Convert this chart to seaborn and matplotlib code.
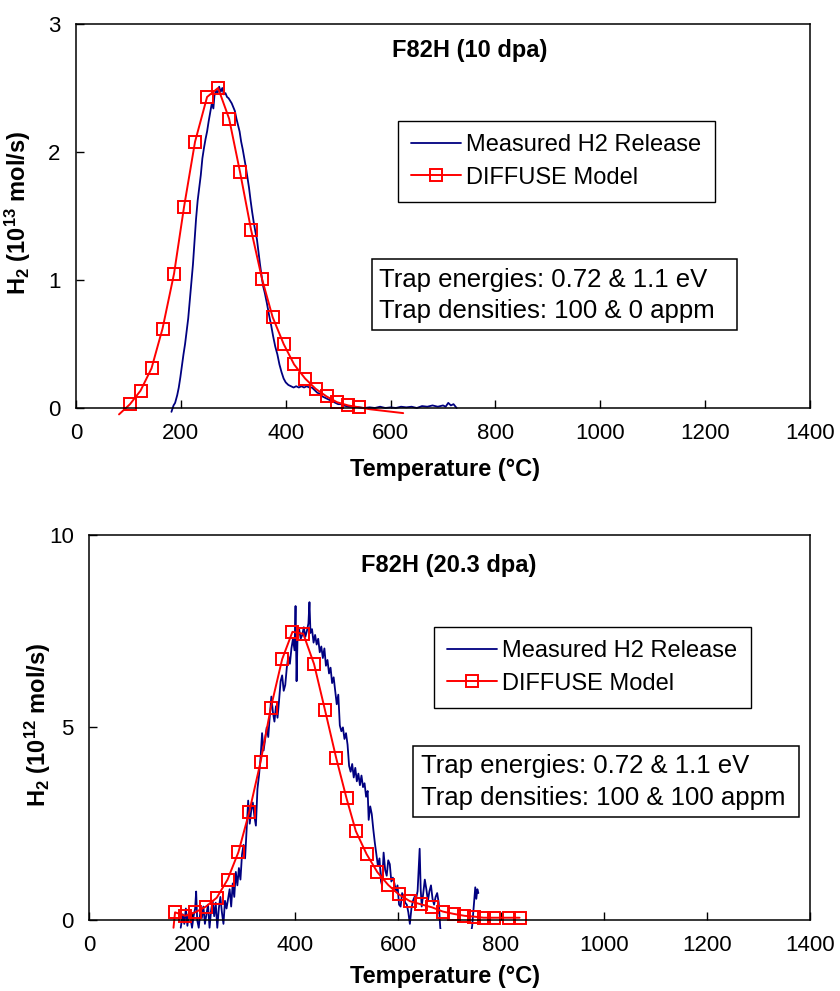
import numpy as np
import pandas as pd
import seaborn as sns
import matplotlib.pyplot as plt
from matplotlib.lines import Line2D
from matplotlib.patches import Rectangle

sns.set_style("white")
plt.rcParams['font.family'] = ['Liberation Sans', 'DejaVu Sans']
plt.rcParams['mathtext.fontset'] = 'custom'
plt.rcParams['mathtext.rm'] = 'Liberation Sans:bold'
plt.rcParams['mathtext.default'] = 'rm'
for key in ['text.color', 'axes.labelcolor', 'xtick.color', 'ytick.color']:
    plt.rcParams[key] = 'black'

NAVY = '#000080'
RED = '#ff0000'

# ---------------- F82H (10 dpa) ----------------
meas1_T = [182, 186, 189, 193, 196, 199, 202, 205, 208, 211, 214, 217, 220, 223, 226, 229,
           232, 235, 238, 241, 244, 247, 250, 253, 256, 259, 262, 264, 267, 270, 273, 276,
           279, 282, 285, 288, 291, 294, 297, 300, 303, 306, 309, 312, 315, 318, 321, 324,
           327, 330, 333, 336, 339, 342, 345, 348, 351, 354, 357, 360, 364, 368, 372, 376,
           380, 384, 388, 392, 396, 400, 405, 410, 415, 420, 425, 430, 435, 440, 445, 450,
           455, 460, 465, 470, 475, 480, 485, 490, 495, 500, 505, 510, 520, 530, 540, 550,
           560, 570, 580, 590, 600, 610, 620, 630, 640, 650, 660, 670, 680, 690, 700, 705,
           710, 715, 720, 726]
meas1_y = [-0.03, 0.02, 0.04, 0.10, 0.16, 0.24, 0.33, 0.42, 0.50, 0.60, 0.70, 0.84, 0.98, 1.12,
           1.30, 1.48, 1.62, 1.72, 1.82, 1.95, 2.03, 2.10, 2.16, 2.24, 2.31, 2.38, 2.34, 2.44,
           2.48, 2.46, 2.51, 2.47, 2.50, 2.45, 2.46, 2.43, 2.42, 2.40, 2.38, 2.35, 2.32, 2.26,
           2.21, 2.16, 2.08, 2.02, 1.95, 1.88, 1.80, 1.72, 1.62, 1.53, 1.45, 1.38, 1.32, 1.22,
           1.12, 1.03, 0.95, 0.90, 0.82, 0.73, 0.65, 0.56, 0.48, 0.42, 0.34, 0.28, 0.23, 0.20,
           0.18, 0.17, 0.16, 0.17, 0.16, 0.17, 0.16, 0.17, 0.16, 0.16, 0.14, 0.12, 0.11, 0.09,
           0.08, 0.07, 0.06, 0.05, 0.04, 0.03, 0.03, 0.02, 0.01, 0.01, 0.005, 0.0, 0.005, 0.0,
           0.01, 0.0, 0.005, 0.0, 0.01, 0.005, 0.01, 0.0, 0.015, 0.01, 0.02, 0.01, 0.02, 0.01,
           0.04, 0.02, 0.03, 0.0]
model1_T = [82, 103, 123, 144, 165, 187, 206, 227, 250, 271, 292, 313, 334, 355, 375, 396,
            416, 437, 457, 478, 498, 519, 540, 561, 582, 603, 624]
model1_y = [-0.05, 0.03, 0.135, 0.31, 0.62, 1.05, 1.57, 2.08, 2.43, 2.50, 2.26, 1.84, 1.39,
            1.005, 0.71, 0.50, 0.34, 0.23, 0.15, 0.09, 0.045, 0.02, 0.005, -0.01, -0.02,
            -0.03, -0.04]

# ---------------- F82H (20.3 dpa) ----------------
meas2_T = [178, 182, 185, 188, 191, 194, 197, 200, 203, 206, 208, 210, 213, 216, 219, 222,
           225, 228, 231, 234, 237, 240, 243, 246, 249, 252, 255, 258, 261, 264, 267,
           270, 273, 276, 279, 282, 285, 288, 291, 294, 297, 300, 303, 306, 309, 312, 315,
           318, 321, 324, 327, 330, 333, 336, 339, 342, 345, 348, 351, 354, 357, 360, 363,
           366, 369, 372, 375, 378, 381, 384, 387, 390, 393, 396, 399, 401, 403, 405, 408,
           411, 414, 417, 420, 423, 426, 428, 430, 433, 436, 439, 442, 445, 448, 451, 454,
           457, 460, 463, 466, 469, 472, 475, 478, 481, 484, 487, 490, 493, 496, 499, 502,
           505, 508, 511, 514, 517, 520, 523, 526, 529, 532, 535, 538, 541, 543, 546, 549,
           552, 555, 558, 561, 564, 567, 569, 572, 575, 578, 581, 584, 587, 590, 593, 596,
           599, 602, 605, 608, 611, 614, 617, 620, 623, 626, 629, 632, 635, 638, 640, 642,
           644, 646, 649, 652, 655, 658, 661, 664, 667, 670, 673, 676, 679, 682, 686, 700,
           720, 740, 744, 747, 750, 752, 754, 756]
meas2_y = [-0.20, 0.15, -0.10, 0.30, -0.15, 0.20, 0.05, -0.20, 0.10, 0.30, 0.74, 0.00, -0.20,
           0.20, 0.05, 0.35, -0.10, 0.15, 0.40, -0.20, 0.25, 0.50, 0.10, 0.45, -0.20, 0.30,
           0.60, 0.20, -0.10, 0.50, 0.30,
           0.55, 0.80, 0.35, 0.95, 0.60, 1.25, 0.90, 1.35, 1.05, 1.70, 1.95, 1.60, 2.35, 3.10,
           2.50, 2.85, 3.05, 2.70, 2.45, 3.40, 3.75, 4.20, 4.85, 4.40, 4.70, 5.00, 4.75, 5.30,
           5.80, 5.40, 5.15, 5.55, 5.25, 5.70, 6.20, 6.35, 5.95, 6.10, 6.55, 6.85, 6.65, 7.05,
           7.30, 7.00, 8.15, 6.20, 7.40, 7.55, 7.30, 7.40, 7.60, 7.35, 7.50, 7.70, 8.25, 7.45,
           7.55, 7.20, 7.40, 7.15, 7.30, 6.95, 7.10, 6.80, 7.05, 6.60, 6.75, 6.40, 6.55, 6.15,
           6.30, 5.95, 5.60, 5.85, 5.05, 4.90, 5.00, 4.70, 4.85, 4.55, 4.00, 3.85, 4.05, 3.70,
           3.95, 3.60, 3.80, 3.50, 3.75, 3.45, 3.55, 3.20, 3.35, 2.60, 2.95, 2.75, 2.35, 2.00,
           1.70, 1.40, 1.60, 1.00, 0.90, 1.75, 1.30, 1.15, 1.55, 1.45, 1.00, 1.10, 0.95, 0.75,
           0.90, 0.40, 0.35, 0.70, 0.60, 0.45, 0.40, 0.20, -0.10, 0.30, 0.50, 0.60, 0.55, 0.75,
           1.30, 1.85, 0.80, 0.35, 0.70, 1.05, 0.80, 0.50, 0.75, 0.90, 0.55, 0.40, 0.60, 0.70,
           0.45, -0.20, -0.50, -0.50, -0.50, -0.50, -0.15, 0.35, 0.85, 0.55, 0.80, 0.70]
model2_T = [164, 167, 187, 206, 227, 248, 269, 290, 311, 333, 353, 375, 395, 416, 437, 458,
            480, 500, 518, 539, 560, 581, 601, 623, 644, 666, 687, 708, 729, 747, 766, 786,
            815, 836]
model2_y = [-0.20, 0.20, 0.11, 0.20, 0.35, 0.58, 1.05, 1.76, 2.80, 4.10, 5.51, 6.77, 7.48,
            7.43, 6.64, 5.46, 4.20, 3.16, 2.31, 1.71, 1.24, 0.91, 0.67, 0.49, 0.41, 0.33,
            0.22, 0.16, 0.11, 0.09, 0.06, 0.06, 0.06, 0.06]

x_ticks = [0, 200, 400, 600, 800, 1000, 1200, 1400]
labels = ['Measured H2 Release', 'DIFFUSE Model']


def draw_panel(ax, mT, my, gT, gy, title, exponent, yticks, trap_text,
               title_pos, legend_pos, box, text_x, text_ys, xlab_pos, ylab_pos):
    meas = pd.DataFrame({'T': mT, 'H2': my})
    model = pd.DataFrame({'T': gT, 'H2': gy})
    sns.lineplot(data=meas, x='T', y='H2', ax=ax, color=NAVY, lw=1.3,
                 sort=False, estimator=None)
    # markers only where the model point sits inside the plot area
    shown = list(model['H2'] >= 0)
    sns.lineplot(data=model, x='T', y='H2', ax=ax, color=RED, lw=1.4,
                 marker='s', markersize=8.5, markerfacecolor='none',
                 markeredgecolor=RED, markeredgewidth=1.4, markevery=shown,
                 sort=False, estimator=None)

    # lines may run a few pixels below the x axis, like in the original
    clip = Rectangle((0, -0.022), 1, 1.044, transform=ax.transAxes)
    for ln in ax.lines:
        ln.set_clip_path(clip)

    ax.set_xlim(0, 1400)
    ax.set_ylim(yticks[0], yticks[-1])
    ax.set_xticks(x_ticks)
    ax.set_yticks(yticks)
    ax.tick_params(direction='in', length=6, width=1, labelsize=16,
                   bottom=True, left=True, top=False, right=False)
    ax.tick_params(axis='x', pad=11)
    ax.tick_params(axis='y', pad=11)
    for s in ax.spines.values():
        s.set_color('black')
        s.set_linewidth(1.1)

    ax.set_xlabel('Temperature (°C)', fontsize=17, fontweight='bold')
    ax.set_ylabel('H$_2$ (10$^{%s}$ mol/s)' % exponent, fontsize=17, fontweight='bold')
    ax.xaxis.set_label_coords(*xlab_pos)
    ax.yaxis.set_label_coords(*ylab_pos)

    ax.text(title_pos[0], title_pos[1], title, transform=ax.transAxes,
            ha='center', va='center', fontsize=17, fontweight='bold')

    handles = [Line2D([], [], color=NAVY, lw=1.3),
               Line2D([], [], color=RED, lw=1.4, marker='s', markersize=8.5,
                      markerfacecolor='none', markeredgecolor=RED, markeredgewidth=1.4)]
    leg = ax.legend(handles, labels, loc='upper left', bbox_to_anchor=legend_pos,
                    fontsize=17, frameon=True, fancybox=False, edgecolor='black',
                    framealpha=1, borderaxespad=0, borderpad=0.55, labelspacing=0.45,
                    handlelength=2.1, handletextpad=0.25)
    leg.get_frame().set_linewidth(1.0)

    ax.add_patch(Rectangle((box[0], box[1]), box[2] - box[0], box[3] - box[1],
                           transform=ax.transAxes, fill=False, ec='black', lw=1.1))
    for line, ty in zip(trap_text, text_ys):
        ax.text(text_x, ty, line, transform=ax.transAxes, ha='left', va='center',
                fontsize=18.5)


fig = plt.figure(figsize=(8.4, 9.91), dpi=100)
ax1 = fig.add_axes([0.0905, 0.5883, 0.8738, 0.3875])
ax2 = fig.add_axes([0.106, 0.0716, 0.8583, 0.3888])

draw_panel(ax1, meas1_T, meas1_y, model1_T, model1_y, 'F82H (10 dpa)', '13', [0, 1, 2, 3],
           ['Trap energies: 0.72 & 1.1 eV', 'Trap densities: 100 & 0 appm'],
           title_pos=(0.537, 0.932), legend_pos=(0.4387, 0.7474),
           box=(0.403, 0.203, 0.9005, 0.388), text_x=0.413, text_ys=(0.333, 0.2526),
           xlab_pos=(0.503, -0.13), ylab_pos=(-0.0586, 0.508))
draw_panel(ax2, meas2_T, meas2_y, model2_T, model2_y, 'F82H (20.3 dpa)', '12', [0, 5, 10],
           ['Trap energies: 0.72 & 1.1 eV', 'Trap densities: 100 & 100 appm'],
           title_pos=(0.499, 0.919), legend_pos=(0.4785, 0.7605),
           box=(0.449, 0.267, 0.985, 0.4516), text_x=0.4605, text_ys=(0.40, 0.318),
           xlab_pos=(0.494, -0.117), ylab_pos=(-0.05, 0.506))

fig.savefig('out.png', dpi=100)
